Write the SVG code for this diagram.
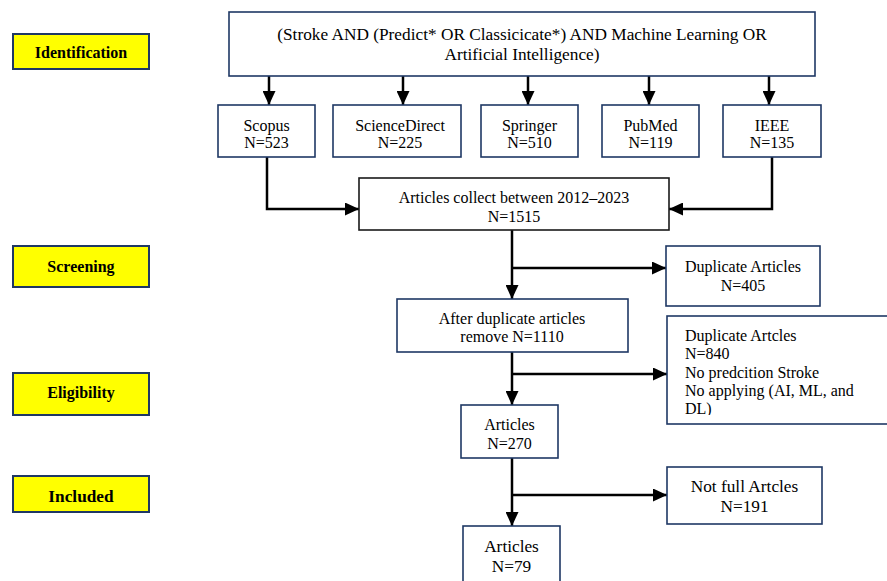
<svg xmlns="http://www.w3.org/2000/svg" width="887" height="581" viewBox="0 0 887 581">
<defs>
<marker id="ah" markerUnits="userSpaceOnUse" markerWidth="14" markerHeight="13" refX="14" refY="6.5" orient="auto">
<path d="M0,0 L14,6.5 L0,13 z" fill="#000"/>
</marker>
<clipPath id="clipEx"><rect x="667" y="316" width="230" height="99"/></clipPath>
</defs>
<style>
.box{fill:#fff;stroke:#1f3864;stroke-width:1.6}
.boxk{fill:#fff;stroke:#1a1a1a;stroke-width:1.6}
.stage{fill:#ffff00;stroke:#1f3864;stroke-width:2}
text{font-family:'Liberation Serif','Times New Roman',Tinos,'DejaVu Serif','Noto Serif',serif;font-size:16px;fill:#000}
.t{text-anchor:middle}
.s{font-weight:bold;text-anchor:middle}
.big{font-size:17.3px}
.c{fill:none;stroke:#000;stroke-width:2.5}
</style>
<rect width="887" height="581" fill="#fff"/>

<g id="stage-identification"><rect class="stage" x="13" y="34" width="136" height="35"/><text class="s" x="81" y="58">Identification</text></g>
<g id="stage-screening"><rect class="stage" x="13" y="246" width="136" height="41"/><text class="s" x="81" y="272">Screening</text></g>
<g id="stage-eligibility"><rect class="stage" x="13" y="373" width="136" height="42"/><text class="s" x="81" y="398">Eligibility</text></g>
<g id="stage-included"><rect class="stage" x="13" y="476" width="136" height="36"/><text class="s big" x="81" y="502">Included</text></g>

<g id="connectors">
<line class="c" x1="269" y1="76" x2="269" y2="105" marker-end="url(#ah)"/>
<line class="c" x1="403" y1="76" x2="403" y2="105" marker-end="url(#ah)"/>
<line class="c" x1="528" y1="76" x2="528" y2="105" marker-end="url(#ah)"/>
<line class="c" x1="649" y1="76" x2="649" y2="105" marker-end="url(#ah)"/>
<line class="c" x1="769" y1="76" x2="769" y2="105" marker-end="url(#ah)"/>
<polyline class="c" points="267,157 267,209 359,209" marker-end="url(#ah)"/>
<polyline class="c" points="772,157 772,209 669,209" marker-end="url(#ah)"/>
<line class="c" x1="512" y1="230" x2="512" y2="299" marker-end="url(#ah)"/>
<line class="c" x1="512" y1="268" x2="666" y2="268" marker-end="url(#ah)"/>
<line class="c" x1="512" y1="352" x2="512" y2="405" marker-end="url(#ah)"/>
<line class="c" x1="512" y1="374" x2="667" y2="374" marker-end="url(#ah)"/>
<line class="c" x1="512" y1="458" x2="512" y2="526" marker-end="url(#ah)"/>
<line class="c" x1="512" y1="495" x2="667" y2="495" marker-end="url(#ah)"/>
</g>

<g id="query"><rect class="box" x="229" y="12" width="586" height="64"/>
<text class="t big" x="522" y="40">(Stroke AND (Predict* OR Classicicate*) AND Machine Learning OR</text>
<text class="t big" x="522" y="60">Artificial Intelligence)</text></g>

<g id="scopus"><rect class="box" x="218" y="105" width="97" height="52"/><text class="t" x="266.5" y="131">Scopus</text><text class="t" x="266.5" y="148">N=523</text></g>
<g id="sciencedirect"><rect class="box" x="333" y="105" width="128" height="52"/><text class="t" x="400" y="131">ScienceDirect</text><text class="t" x="400" y="148">N=225</text></g>
<g id="springer"><rect class="box" x="481" y="105" width="97" height="52"/><text class="t" x="529.5" y="131">Springer</text><text class="t" x="529.5" y="148">N=510</text></g>
<g id="pubmed"><rect class="box" x="602" y="105" width="97" height="52"/><text class="t" x="650.5" y="131">PubMed</text><text class="t" x="650.5" y="148">N=119</text></g>
<g id="ieee"><rect class="box" x="723" y="105" width="98" height="52"/><text class="t" x="772" y="131">IEEE</text><text class="t" x="772" y="148">N=135</text></g>

<g id="collect"><rect class="boxk" x="359" y="178" width="310" height="52"/><text class="t" x="514" y="203">Articles collect between 2012–2023</text><text class="t" x="514" y="222">N=1515</text></g>

<g id="duplicates"><rect class="box" x="666" y="246" width="154" height="60"/><text class="t" x="743" y="272">Duplicate Articles</text><text class="t" x="743" y="291">N=405</text></g>

<g id="after-dup"><rect class="box" x="397" y="299" width="231" height="53"/><text class="t" x="512" y="324">After duplicate articles</text><text class="t" x="512" y="342">remove N=1110</text></g>

<g id="excluded"><rect class="box" x="667" y="316" width="230" height="108"/>
<g clip-path="url(#clipEx)">
<text x="685" y="341">Duplicate Artcles</text>
<text x="685" y="359">N=840</text>
<text x="685" y="378">No predcition Stroke</text>
<text x="685" y="396">No applying (AI, ML, and</text>
<text x="685" y="414">DL)</text>
</g></g>

<g id="articles270"><rect class="box" x="461" y="405" width="97" height="53"/><text class="t" x="509.5" y="430">Articles</text><text class="t" x="509.5" y="449">N=270</text></g>

<g id="notfull"><rect class="box" x="667" y="467" width="155" height="57"/><text class="t big" x="744.5" y="492">Not full Artcles</text><text class="t big" x="744.5" y="512">N=191</text></g>

<g id="articles79"><rect class="box" x="463" y="526" width="97" height="60"/><text class="t big" x="511.5" y="552">Articles</text><text class="t big" x="511.5" y="572">N=79</text></g>
</svg>
